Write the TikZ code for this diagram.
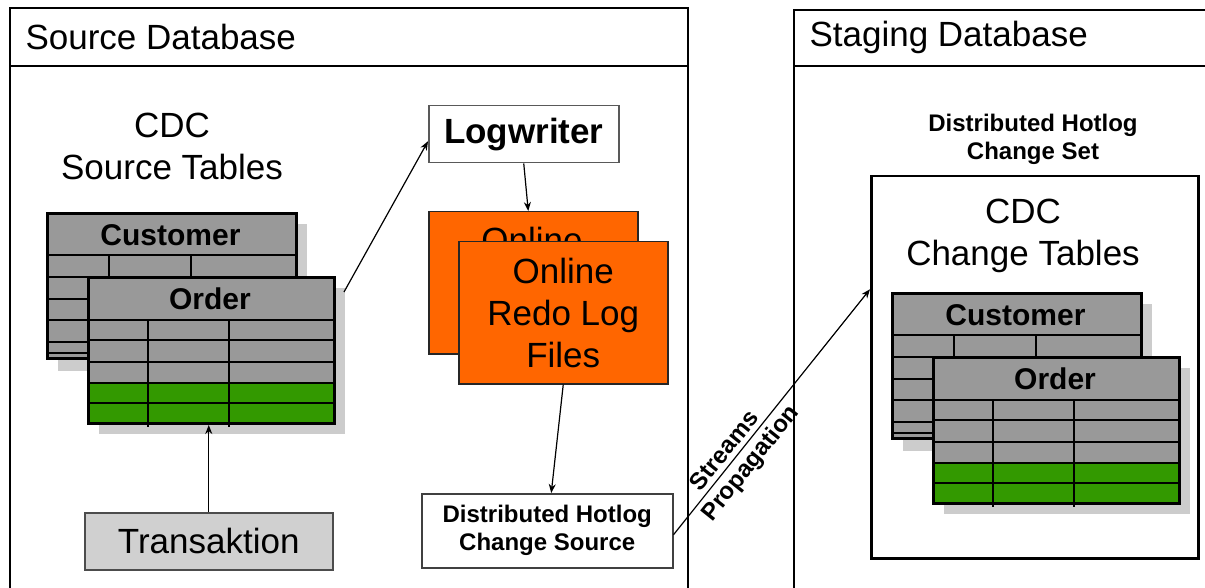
\documentclass[tikz,border=0pt]{standalone}
\usepackage{fontspec}
\setmainfont{Liberation Sans}
\usepackage{xcolor}
\definecolor{redoorange}{RGB}{255,102,0}
\definecolor{tablegray}{RGB}{153,153,153}
\definecolor{shadowgray}{RGB}{204,204,204}
\definecolor{rowgreen}{RGB}{51,153,0}
\definecolor{transgray}{RGB}{208,208,208}
\usetikzlibrary{arrows.meta, positioning, calc}

\tikzset{
  dbframe/.style={draw=black, line width=2.5pt},
  plainbox/.style={draw=black!75, line width=1.5pt, fill=white, inner sep=0pt},
  bigtext/.style={font=\fontsize{35}{42}\selectfont, align=center},
  smallbold/.style={font=\fontsize{24}{28}\selectfont\bfseries, align=center},
  headtext/.style={font=\fontsize{30}{36}\selectfont\bfseries, inner sep=0pt},
  tableframe/.style={draw=black, line width=3pt, inner sep=0pt},
  rowline/.style={draw=black, line width=1.2pt},
  redobox/.style={draw=black!85, line width=1.5pt, fill=redoorange, minimum width=209pt,
                  minimum height=142pt, anchor=north west},
  arr/.style={-{Stealth[length=9pt,width=7pt]}, line width=1.2pt},
}

% two stacked CDC tables: #1,#2 top left of Customer, #3 name prefix
\newcommand{\cdctables}[3]{%
\begin{scope}[shift={(#1,#2)}]
  % Customer
  \fill[shadowgray] (12,12) rectangle (261,159);
  \fill[tablegray] (0,0) rectangle (249,145);
  \foreach \r in {65,87,108,130,141} \draw[rowline] (0,\r) -- (249,\r);
  \foreach \c in {63,145} \draw[rowline] (\c,43) -- (\c,65);
  \draw[line width=2.5pt] (0,43) -- (249,43);
  \node[tableframe, minimum width=249pt, minimum height=145pt, anchor=north west] (#3cust) at (0,0) {};
  \node[headtext] (#3custhead) at (124.5,23) {Customer};
  % Order
  \fill[shadowgray] (53,76) rectangle (299,222);
  \fill[tablegray] (41,64) rectangle (287,171);
  \fill[rowgreen] (41,171) rectangle (287,210);
  \foreach \r in {128,150,171,191} \draw[rowline] (41,\r) -- (287,\r);
  \foreach \c in {102,183} \draw[rowline] (\c,108) -- (\c,215);
  \draw[line width=2.5pt] (41,108) -- (287,108);
  \node[tableframe, minimum width=246pt, minimum height=146pt, anchor=north west] (#3ord) at (41,64) {};
  \node[headtext] (#3ordhead) at (164,87) {Order};
\end{scope}}

\begin{document}
\begin{tikzpicture}[x=1pt, y=-1pt]
\useasboundingbox (0,0) rectangle (1205,588);
\clip (0,0) rectangle (1205,588);

% Source database frame
\draw[dbframe] (10,600) -- (10,8) -- (688,8) -- (688,600);
\draw[dbframe] (10,66) -- (688,66);
\node[bigtext, anchor=west] (srctitle) at (22,37) {Source Database};

% Staging database frame
\draw[dbframe] (794,600) -- (794,10) -- (1220,10);
\draw[dbframe] (794,66) -- (1220,66);
\node[bigtext, anchor=west] (stgtitle) at (806,37) {Staging Database};

% Source tables
\node[bigtext] (srccdc) at (172,146) {CDC\\Source Tables};
\cdctables{46}{212}{src}

% Transaction
\node[plainbox, fill=transgray, draw=black!70, minimum width=248pt, minimum height=57pt,
      anchor=north west, bigtext] (trans) at (84,512) {Transaktion};
\draw[arr] (trans.north) -- (trans.north |- srcord.south);

% Logwriter and redo log files
\node[plainbox, draw=black!65, minimum width=190pt, minimum height=57pt, anchor=north west,
      font=\fontsize{35}{42}\selectfont\bfseries] (logw) at (428,105) {Logwriter};
\node[redobox] (redoback) at (428,211) {};
\node[bigtext, anchor=north] (redobacktxt) at (532,224) {Online};
\node[redobox, bigtext] (redo) at (458,241) {Online\\Redo Log\\Files};
\draw[arr] ([xshift=8pt,yshift=-16pt]srcord.north east) -- ([yshift=-7pt]logw.west);
\draw[arr] (logw.south) -- ([xshift=-5pt]redoback.north);

% Change source
\node[plainbox, minimum width=251pt, minimum height=74pt, anchor=north west, smallbold] (chsrc) at (421,493) {Distributed Hotlog\\Change Source};
\draw[arr] (redo.south) -- ([xshift=4pt]chsrc.north);

% Staging change set
\node[smallbold] (chsettitle) at (1033,139) {Distributed Hotlog\\Change Set};
\node[draw=black, line width=2.5pt, minimum width=327pt, minimum height=382pt, anchor=north west] (chset) at (870,175) {};
\node[bigtext] (stgcdc) at (1023,236) {CDC\\Change Tables};
\cdctables{891}{292}{stg}

% Streams propagation
\draw[arr] ([yshift=-4pt]chsrc.east) -- ([yshift=78pt]chset.west)
  node[pos=0.31, sloped, above=1pt, smallbold] (streamslbl) {Streams}
  node[pos=0.33, sloped, below=1pt, smallbold] (proplbl) {Propagation};

\end{tikzpicture}
\end{document}
